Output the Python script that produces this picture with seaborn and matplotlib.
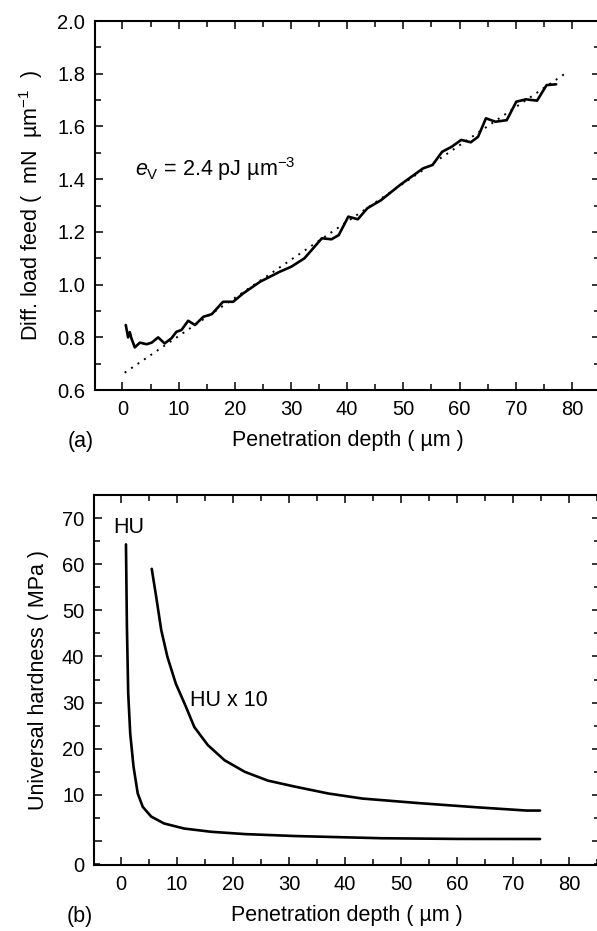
import numpy as np
import pandas as pd
import matplotlib
matplotlib.use("Agg")
import matplotlib.pyplot as plt
from matplotlib.ticker import MultipleLocator, FormatStrFormatter
import seaborn as sns

# --- Data ---
# (a) differential load feed vs penetration depth
depth_a = [0.59, 1.0, 1.3, 1.6, 2.2, 3.1, 4.3, 5.2, 6.35, 7.5, 8.7, 9.6, 10.5, 11.7,
           12.9, 14.4, 15.9, 17.9, 19.7, 21.5, 24.5, 28.0, 30.05, 32.4, 35.5, 37.2,
           38.5, 40.2, 41.9, 43.6, 46.0, 49.4, 53.5, 55.2, 56.9, 58.6, 60.3, 62.0,
           63.3, 64.7, 66.4, 68.4, 70.1, 71.8, 73.8, 75.5, 77.2]
load_feed = [0.847, 0.800, 0.820, 0.796, 0.762, 0.780, 0.774, 0.780, 0.800, 0.777,
             0.796, 0.821, 0.828, 0.863, 0.847, 0.878, 0.888, 0.935, 0.935, 0.967,
             1.011, 1.049, 1.068, 1.100, 1.176, 1.172, 1.188, 1.258, 1.248, 1.290,
             1.320, 1.378, 1.441, 1.454, 1.504, 1.523, 1.549, 1.540, 1.561, 1.631,
             1.618, 1.624, 1.694, 1.703, 1.698, 1.757, 1.760]
fit_x = [0.4, 79.3]
fit_y = [0.666, 1.808]

# (b) universal hardness vs penetration depth
depth_hu = [0.9, 1.07, 1.3, 1.66, 2.25, 3.0, 3.9, 5.4, 7.7, 11.3, 16.1, 22.1, 31.0,
            46.5, 60.2, 74.8]
hu = [64.3, 46.4, 32.0, 23.3, 16.1, 10.3, 7.4, 5.3, 3.8, 2.7, 2.0, 1.5, 1.08,
      0.6, 0.45, 0.43]
depth_hu10 = [5.5, 6.3, 7.2, 8.3, 9.8, 11.6, 13.1, 15.5, 18.5, 22.1, 26.2, 31.0,
              37.0, 43.1, 53.3, 63.6, 72.4, 74.8]
hu10 = [59.0, 52.9, 45.7, 39.9, 34.1, 29.1, 24.7, 20.8, 17.5, 15.0, 13.1, 11.8,
        10.3, 9.2, 8.2, 7.3, 6.6, 6.6]

# --- Style ---
sns.set_theme(style="ticks")
plt.rcParams["font.family"] = ["Liberation Sans", "DejaVu Sans"]
plt.rcParams["mathtext.fontset"] = "custom"
plt.rcParams["mathtext.rm"] = "Liberation Sans"
plt.rcParams["mathtext.it"] = "Liberation Sans:italic"
plt.rcParams["mathtext.default"] = "regular"
plt.rcParams["text.color"] = "black"
plt.rcParams["axes.labelcolor"] = "black"

FS_TICK = 14.5
FS = 15.5
fig = plt.figure(figsize=(5.97, 9.31), dpi=100)
ax_a = fig.add_axes([0.159, 0.581, 0.846, 0.3964])
ax_b = fig.add_axes([0.1575, 0.0709, 0.8475, 0.3974])


def style_axes(ax):
    for s in ax.spines.values():
        s.set_linewidth(1.5)
        s.set_color("black")
    ax.tick_params(which="both", direction="in", top=True, right=True,
                   colors="black", labelsize=FS_TICK, width=1.1)
    ax.tick_params(which="major", length=6, pad=7)
    ax.tick_params(which="minor", length=4)
    ax.xaxis.set_major_locator(MultipleLocator(10))
    ax.xaxis.set_minor_locator(MultipleLocator(5))
    ax.set_xlabel("Penetration depth ( µm )", fontsize=FS, labelpad=8)


# panel (a)
df_a = pd.DataFrame({"depth": depth_a, "feed": load_feed})
sns.lineplot(data=df_a, x="depth", y="feed", ax=ax_a, color="black",
             linewidth=1.9, sort=False, estimator=None)
ax_a.plot(fit_x, fit_y, color="black", linestyle=(0, (1, 3)), linewidth=1.4)
ax_a.set_xlim(-4.9, 85.0)
ax_a.set_ylim(0.6, 2.0)
ax_a.yaxis.set_major_locator(MultipleLocator(0.2))
ax_a.yaxis.set_minor_locator(MultipleLocator(0.1))
ax_a.yaxis.set_major_formatter(FormatStrFormatter("%.1f"))
style_axes(ax_a)
ax_a.set_ylabel("Diff. load feed (  mN  µm$^{-1}$  )", fontsize=FS, labelpad=9)
ax_a.text(2.2, 1.44, "$\\mathit{e}_{V}$ = 2.4 pJ µm$^{-3}$", fontsize=FS,
          va="center", ha="left")
ax_a.text(-0.055, -0.14, "(a)", transform=ax_a.transAxes, fontsize=FS,
          ha="left", va="center")

# panel (b)
df_b = pd.concat([
    pd.DataFrame({"depth": depth_hu, "hardness": hu, "curve": "HU"}),
    pd.DataFrame({"depth": depth_hu10, "hardness": hu10, "curve": "HU x 10"}),
])
sns.lineplot(data=df_b, x="depth", y="hardness", units="curve", ax=ax_b,
             color="black", linewidth=1.9, sort=False, estimator=None)
ax_b.set_xlim(-4.8, 85.5)
ax_b.set_ylim(-5.2, 75.0)
style_axes(ax_b)
ax_b.set_yticks([-5.2, 0, 10, 20, 30, 40, 50, 60, 70],
                ["0", "", "10", "20", "30", "40", "50", "60", "70"])
ax_b.yaxis.set_minor_locator(MultipleLocator(5))
ax_b.set_ylabel("Universal hardness ( MPa )", fontsize=FS, labelpad=9)
ax_b.text(-1.4, 68, "HU", fontsize=FS, va="center", ha="left")
ax_b.text(12.4, 30.5, "HU x 10", fontsize=FS, va="center", ha="left")
ax_b.text(-0.055, -0.14, "(b)", transform=ax_b.transAxes, fontsize=FS,
          ha="left", va="center")

fig.savefig("out.png", dpi=100)
